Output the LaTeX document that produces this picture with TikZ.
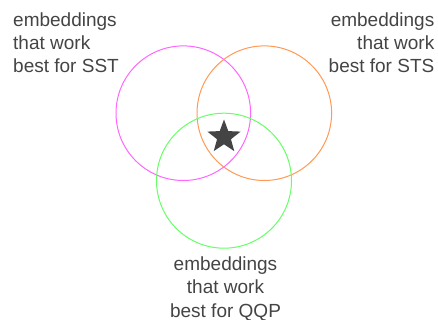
\documentclass[tikz,border=0pt]{standalone}
\usepackage{fontspec}
\setmainfont{Liberation Sans}
\usetikzlibrary{shapes.geometric}
\definecolor{txtgray}{HTML}{444444}
\definecolor{cmag}{HTML}{FF66FF}
\definecolor{corange}{HTML}{FF9955}
\definecolor{cgreen}{HTML}{66FF66}
\tikzset{
  lbl/.style={text=txtgray, inner sep=0pt, font=\fontsize{19}{23.1}\selectfont},
  ring/.style={line width=1pt, fill=none},
}
\begin{document}
\begin{tikzpicture}[x=1pt,y=-1pt]
\useasboundingbox (0,0) rectangle (438,320);
\draw[ring, cmag] (183.3,113.2) circle[radius=67.3];
\draw[ring, corange] (264.3,113.2) circle[radius=67.3];
\draw[ring, cgreen] (224,180.7) circle[radius=67.5];
\node[star, star points=5, star point ratio=2.4, fill=txtgray, inner sep=0pt, minimum size=35pt] (star) at (224,137) {};
\node[lbl, anchor=base west, align=left] (sst) at (13,72.5) {embeddings\\that work\\best for SST};
\node[lbl, anchor=base east, align=right] (sts) at (434.5,72.5) {embeddings\\that work\\best for STS};
\node[lbl, anchor=base, align=center] (qqp) at (225.5,317) {embeddings\\that work\\best for QQP};
\end{tikzpicture}
\end{document}
